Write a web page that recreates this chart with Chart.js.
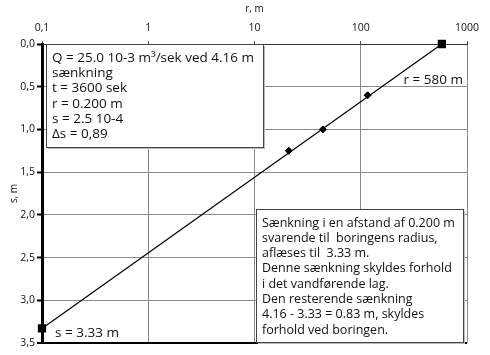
<!DOCTYPE html>
<html>
<head>
<meta charset="utf-8">
<script src="https://cdn.jsdelivr.net/npm/chart.js@4/dist/chart.umd.min.js"></script>
<style>
  html, body { margin: 0; padding: 0; background: #fff; }
  #wrap { width: 490px; height: 355px; }
</style>
</head>
<body>
<div id="wrap"><canvas id="chart" width="490" height="355"></canvas></div>
<script>
// Data
const rFit = [0.1, 580];          // fitted line, end points (m)
const sFit = [3.33, 0];           // drawdown at the end points (m)
const rObs = [21, 44, 116];       // observation wells (m)
const sObs = [1.25, 1.0, 0.6];    // drawdown in the wells (m)
const xTicks = [0.1, 1, 10, 100, 1000];
const yTicks = [0, 0.5, 1.0, 1.5, 2.0, 2.5, 3.0, 3.5];

const infoLines = [
    'Q = 25.0 10-3 m³/sek ved 4.16 m',
    'sænkning',
    't = 3600 sek',
    'r = 0.200 m',
    's = 2.5 10-4',
    'Δs = 0,89'
];
const noteLines = [
    'Sænkning i en afstand af 0.200 m',
    'svarende til  boringens radius,',
    'aflæses til  3.33 m.',
    'Denne sænkning skyldes forhold',
    'i det vandførende lag.',
    'Den resterende sænkning',
    '4.16 - 3.33 = 0.83 m, skyldes',
    'forhold ved boringen.'
];
const labelS = 's = 3.33 m';
const labelR = 'r = 580 m';

const FONT = '"Open Sans", "DejaVu Sans", sans-serif';

function comma(v, d) {
    return Number(v).toFixed(d).replace('.', ',');
}

// Draw a white text box with a thin border
function textBox(ctx, x, y, w, h, lines, lineH, size) {
    ctx.save();
    ctx.fillStyle = '#bbb';
    ctx.fillRect(x + 2, y + 2, w, h);
    ctx.fillStyle = '#fff';
    ctx.fillRect(x, y, w, h);
    ctx.strokeStyle = '#444';
    ctx.lineWidth = 1;
    ctx.strokeRect(x + 0.5, y + 0.5, w, h);
    ctx.fillStyle = '#111';
    ctx.font = size + 'px ' + FONT;
    ctx.textBaseline = 'middle';
    ctx.textAlign = 'left';
    lines.forEach(function(t, i) {
        ctx.fillText(t, x + 6, y + 14 + i * lineH);
    });
    ctx.restore();
}

const notesPlugin = {
    id: 'notes',
    afterDraw: function(chart) {
        const ctx = chart.ctx;
        const xs = chart.scales.x;
        const ys = chart.scales.y;

        textBox(ctx, 46, 44, 217, 103, infoLines, 15.3, 13.5);
        textBox(ctx, 256, 209, 207, 133, noteLines, 15.3, 12.5);

        ctx.save();
        ctx.fillStyle = '#111';
        ctx.font = '13.5px ' + FONT;
        ctx.textBaseline = 'middle';
        ctx.textAlign = 'left';
        ctx.fillText(labelS, xs.getPixelForValue(rFit[0]) + 13, ys.getPixelForValue(sFit[0]) + 5);
        ctx.textAlign = 'right';
        ctx.fillText(labelR, chart.chartArea.right - 4, ys.getPixelForValue(0.42));
        ctx.restore();
    }
};

const fitData = rFit.map(function(r, i) { return { x: r, y: sFit[i] }; });
const obsData = rObs.map(function(r, i) { return { x: r, y: sObs[i] }; });

new Chart(document.getElementById('chart'), {
    type: 'scatter',
    data: {
        datasets: [{
            data: fitData,
            showLine: true,
            borderColor: '#000',
            borderWidth: 1.2,
            backgroundColor: '#000',
            pointStyle: 'rect',
            pointRadius: 5,
            clip: false
        }, {
            data: obsData,
            showLine: false,
            borderColor: '#000',
            backgroundColor: '#000',
            pointStyle: 'rectRot',
            pointRadius: 3.5
        }]
    },
    options: {
        responsive: false,
        animation: false,
        events: [],
        layout: { padding: { left: 0, top: 0, right: 23, bottom: 12 } },
        plugins: {
            legend: { display: false },
            tooltip: { enabled: false }
        },
        scales: {
            x: {
                type: 'logarithmic',
                position: 'top',
                min: 0.1,
                max: 1000,
                afterBuildTicks: function(scale) {
                    scale.ticks = xTicks.map(function(v) { return { value: v }; });
                },
                afterFit: function(scale) { scale.height = 44; },
                ticks: {
                    color: '#111',
                    font: { family: FONT, size: 10.5 },
                    padding: 7,
                    maxRotation: 0,
                    callback: function(v) { return v < 1 ? comma(v, 1) : String(v); }
                },
                grid: {
                    color: '#8a8a8a',
                    lineWidth: 1,
                    tickLength: 3,
                    tickColor: '#555'
                },
                border: { color: '#333', width: 1 },
                title: {
                    display: true,
                    text: 'r, m',
                    color: '#111',
                    font: { family: FONT, size: 10 },
                    padding: { top: 3, bottom: 0 }
                }
            },
            y: {
                type: 'linear',
                reverse: true,
                min: 0,
                max: 3.5,
                afterBuildTicks: function(scale) {
                    scale.ticks = yTicks.map(function(v) { return { value: v }; });
                },
                afterFit: function(scale) { scale.width = 42; },
                ticks: {
                    color: '#111',
                    font: { family: FONT, size: 10.5 },
                    padding: 2,
                    callback: function(v) { return comma(v, 1); }
                },
                grid: {
                    color: function(c) { return c.tick && c.tick.value === 3.5 ? '#000' : '#8a8a8a'; },
                    lineWidth: function(c) { return c.tick && c.tick.value === 3.5 ? 2 : 1; },
                    tickLength: 5,
                    tickColor: '#000',
                    tickWidth: 2
                },
                border: { color: '#000', width: 3 },
                title: {
                    display: true,
                    text: 's, m',
                    color: '#111',
                    font: { family: FONT, size: 10 },
                    padding: { top: 8, bottom: 0 }
                }
            }
        }
    },
    plugins: [notesPlugin]
});
</script>
</body>
</html>
